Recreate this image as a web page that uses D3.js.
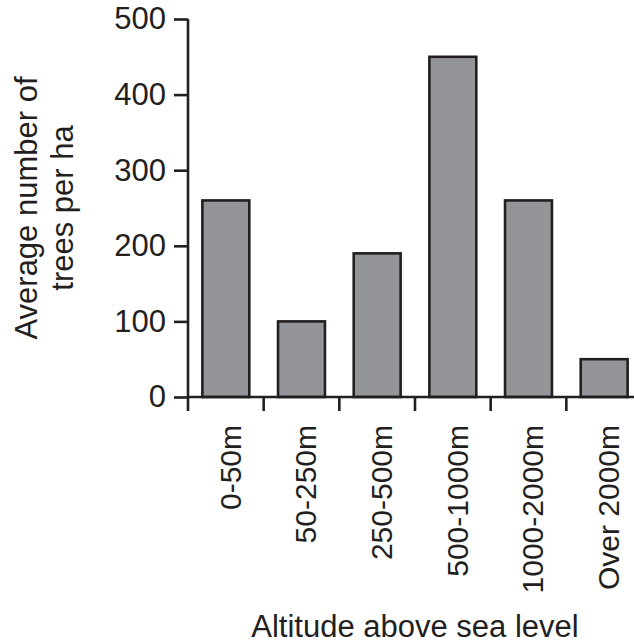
<!DOCTYPE html>
<html>
<head>
<meta charset="utf-8">
<script src="https://cdn.jsdelivr.net/npm/d3@7"></script>
<style>
  body { margin: 0; background: #fff; }
  svg { display: block; }
  text { font-family: "Liberation Sans", Arial, Helvetica, sans-serif; fill: #231f20; }
</style>
</head>
<body>
<div class="chart"></div>
<script>
// altitude bands and tree density
var altitudes = ["0-50m", "50-250m", "250-500m", "500-1000m", "1000-2000m", "Over 2000m"];
var trees = [260, 100, 190, 450, 260, 50];
var yTicks = [0, 100, 200, 300, 400, 500];

var W = 634, H = 644;
var margin = {top: 19, left: 188, bottom: 247, right: -8};
var ink = "#231f20";

var svg = d3.select(".chart").append("svg")
    .attr("width", W)
    .attr("height", H);

var x = d3.scaleBand()
    .domain(altitudes)
    .range([margin.left, W - margin.right])
    .padding(0);

var y = d3.scaleLinear()
    .domain([0, 500])
    .range([H - margin.bottom, margin.top]);

var bw = x.bandwidth() * 0.62;

// bars
svg.append("g")
    .selectAll("rect")
    .data(altitudes)
    .enter().append("rect")
    .attr("x", function (d) { return x(d) + (x.bandwidth() - bw) / 2; })
    .attr("y", function (d, i) { return y(trees[i]); })
    .attr("width", bw)
    .attr("height", function (d, i) { return y(0) - y(trees[i]); })
    .attr("fill", "#939598")
    .attr("stroke", ink)
    .attr("stroke-width", 2.6);

// y axis
var yAxis = svg.append("g")
    .attr("transform", "translate(" + margin.left + ",0)")
    .call(d3.axisLeft(y).tickValues(yTicks).tickSize(14).tickPadding(8).tickSizeOuter(0));
yAxis.select(".domain").remove();
yAxis.append("line")
    .attr("x1", 0).attr("x2", 0)
    .attr("y1", y(500)).attr("y2", y(0) + 14)
    .attr("stroke", ink).attr("stroke-width", 2.6);
yAxis.selectAll(".tick line").attr("stroke", ink).attr("stroke-width", 2.6);
yAxis.selectAll(".tick text")
    .style("font-size", "31px")
    .style("font-family", "'Liberation Sans', Arial, sans-serif")
    .attr("fill", ink);

// x axis: ticks sit between bars
var tickPos = altitudes.map(function (d) { return x(d); });
var xg = svg.append("g");
xg.append("line")
    .attr("x1", margin.left).attr("x2", W)
    .attr("y1", y(0)).attr("y2", y(0))
    .attr("stroke", ink).attr("stroke-width", 2.6);
xg.selectAll(".xt")
    .data(tickPos.slice(1))
    .enter().append("line")
    .attr("class", "xt")
    .attr("x1", function (d) { return d; })
    .attr("x2", function (d) { return d; })
    .attr("y1", y(0))
    .attr("y2", y(0) + 14)
    .attr("stroke", ink).attr("stroke-width", 2.6);

xg.selectAll(".xl")
    .data(altitudes)
    .enter().append("text")
    .attr("class", "xl")
    .attr("transform", function (d) {
        return "translate(" + (x(d) + x.bandwidth() / 2 + 4) + "," + (y(0) + 28) + ") rotate(-90)";
    })
    .attr("text-anchor", "end")
    .attr("dy", "0.36em")
    .style("font-size", "30px")
    .text(function (d) { return d; });

// axis titles
svg.append("text")
    .attr("x", (margin.left + W - margin.right) / 2)
    .attr("y", 637)
    .attr("text-anchor", "middle")
    .style("font-size", "31px")
    .text("Altitude above sea level");

var yt = svg.append("text")
    .attr("transform", "translate(37,208) rotate(-90)")
    .attr("text-anchor", "middle")
    .style("font-size", "31px");
yt.append("tspan").attr("x", 0).attr("y", 0).text("Average number of");
yt.append("tspan").attr("x", 0).attr("y", 36).text("trees per ha");
</script>
</body>
</html>
